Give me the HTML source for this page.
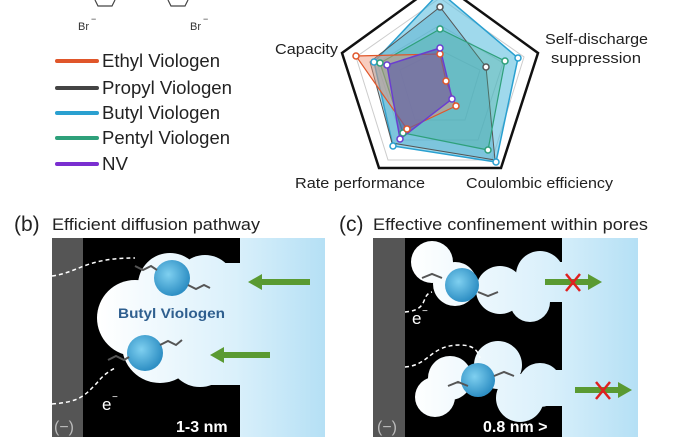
<!DOCTYPE html>
<html><head><style>
html,body{margin:0;padding:0;background:#fff;}
svg{display:block;}
text{font-family:"Liberation Sans",sans-serif;}
</style></head><body>
<svg width="686" height="440" viewBox="0 0 686 440" xmlns="http://www.w3.org/2000/svg">
<defs>
<linearGradient id="gb" gradientUnits="userSpaceOnUse" x1="100" x2="325" y1="0" y2="0">
<stop offset="0" stop-color="#ffffff"/><stop offset="0.6" stop-color="#daf0fb"/><stop offset="1" stop-color="#b5e0f5"/></linearGradient>
<linearGradient id="gc" gradientUnits="userSpaceOnUse" x1="410" x2="638" y1="0" y2="0">
<stop offset="0" stop-color="#ffffff"/><stop offset="0.6" stop-color="#daf0fb"/><stop offset="1" stop-color="#b5e0f5"/></linearGradient>
<radialGradient id="sph" cx="0.4" cy="0.4" r="0.6">
<stop offset="0" stop-color="#7fd0f0"/><stop offset="1" stop-color="#2e8fc4"/></radialGradient>
</defs>
<path d="M95 0 L98 6 L112 6 L115 0 M168 0 L171 6 L185 6 L188 0" fill="none" stroke="#444" stroke-width="1.2"/>
<text x="78" y="30" font-size="11" fill="#333">Br</text><text x="91" y="22" font-size="9" fill="#333">−</text>
<text x="190" y="30" font-size="11" fill="#333">Br</text><text x="203" y="22" font-size="9" fill="#333">−</text>
<g stroke-width="4" stroke-linecap="round">
<line x1="57" y1="61" x2="97" y2="61" stroke="#e0562a"/>
<line x1="57" y1="88" x2="97" y2="88" stroke="#444"/>
<line x1="57" y1="113" x2="97" y2="113" stroke="#2aa0d0"/>
<line x1="57" y1="138" x2="97" y2="138" stroke="#2ea07a"/>
<line x1="57" y1="164" x2="97" y2="164" stroke="#7a2ed0"/>
</g>
<g font-size="18" fill="#222">
<text x="102" y="67" textLength="118" lengthAdjust="spacingAndGlyphs">Ethyl Viologen</text>
<text x="102" y="94" textLength="130" lengthAdjust="spacingAndGlyphs">Propyl Viologen</text>
<text x="102" y="119" textLength="118" lengthAdjust="spacingAndGlyphs">Butyl Viologen</text>
<text x="102" y="144" textLength="128" lengthAdjust="spacingAndGlyphs">Pentyl Viologen</text>
<text x="102" y="170" textLength="26" lengthAdjust="spacingAndGlyphs">NV</text>
</g>
<g fill="none" stroke="#ccc" stroke-width="1">
<polygon points="440,-2 356,57 388,160 492,160 524,57"/>
<polygon points="440,25 377,63 402,140 478,140 503,63"/>
<polygon points="440,50 400,70 415,120 465,120 480,70"/>
</g>
<polygon points="440,-18 342,53 379,168 501,168 538,53" fill="none" stroke="#111" stroke-width="2.5"/>
<polygon points="440,-8 374,62 393,146 496,162 518,58" fill="#5fbfe0" fill-opacity="0.6" stroke="#2aa0d0" stroke-width="1.5"/>
<polygon points="440,7 370,62 392,143 495,160 486,67" fill="#4aa8c8" fill-opacity="0.4" stroke="#555" stroke-width="1"/>
<polygon points="440,29 380,63 403,133 488,150 505,61" fill="#3aa890" fill-opacity="0.3" stroke="#2ea07a" stroke-width="1.2"/>
<polygon points="440,54 356,56 407,129 456,106 446,81" fill="#f09070" fill-opacity="0.45" stroke="#e0562a" stroke-width="1.2"/>
<polygon points="440,48 387,65 400,139 452,99 448,81" fill="#5a5aa8" fill-opacity="0.6" stroke="#6a3ed0" stroke-width="1.5"/>
<g fill="#fff" stroke-width="1.5">
<circle cx="374" cy="62" r="3" stroke="#2aa0d0"/><circle cx="518" cy="58" r="3" stroke="#2aa0d0"/><circle cx="496" cy="162" r="3" stroke="#2aa0d0"/><circle cx="393" cy="146" r="3" stroke="#2aa0d0"/>
<circle cx="440" cy="7" r="3" stroke="#555"/><circle cx="486" cy="67" r="3" stroke="#555"/>
<circle cx="440" cy="29" r="3" stroke="#2ea07a"/><circle cx="380" cy="63" r="3" stroke="#2ea07a"/><circle cx="505" cy="61" r="3" stroke="#2ea07a"/><circle cx="488" cy="150" r="3" stroke="#2ea07a"/><circle cx="403" cy="133" r="3" stroke="#2ea07a"/>
<circle cx="440" cy="54" r="3" stroke="#e0562a"/><circle cx="356" cy="56" r="3" stroke="#e0562a"/><circle cx="446" cy="81" r="3" stroke="#e0562a"/><circle cx="456" cy="106" r="3" stroke="#e0562a"/><circle cx="407" cy="129" r="3" stroke="#e0562a"/>
<circle cx="440" cy="48" r="3" stroke="#6a3ed0"/><circle cx="387" cy="65" r="3" stroke="#6a3ed0"/><circle cx="452" cy="99" r="3" stroke="#6a3ed0"/><circle cx="400" cy="139" r="3" stroke="#6a3ed0"/>
</g>
<g font-size="15" fill="#222">
<text x="275" y="54" textLength="63" lengthAdjust="spacingAndGlyphs">Capacity</text>
<text x="545" y="44" textLength="103" lengthAdjust="spacingAndGlyphs">Self-discharge</text>
<text x="551" y="63" textLength="90" lengthAdjust="spacingAndGlyphs">suppression</text>
<text x="295" y="188" textLength="130" lengthAdjust="spacingAndGlyphs">Rate performance</text>
<text x="466" y="188" textLength="147" lengthAdjust="spacingAndGlyphs">Coulombic efficiency</text>
</g>
<text x="14" y="231" font-size="21" fill="#222">(b)</text>
<text x="52" y="230" font-size="17" fill="#222" textLength="208" lengthAdjust="spacingAndGlyphs">Efficient diffusion pathway</text>
<text x="339" y="231" font-size="21" fill="#222">(c)</text>
<text x="373" y="230" font-size="17" fill="#222" textLength="275" lengthAdjust="spacingAndGlyphs">Effective confinement within pores</text>
<!-- panel b -->
<rect x="52" y="238" width="273" height="199" fill="url(#gb)"/>
<rect x="52" y="238" width="31" height="199" fill="#555"/>
<rect x="83" y="238" width="157" height="199" fill="#000"/>
<g fill="url(#gb)">
<circle cx="170" cy="285" r="32"/><circle cx="205" cy="285" r="30"/>
<circle cx="135" cy="318" r="38"/><circle cx="160" cy="345" r="38"/>
<circle cx="200" cy="355" r="32"/><circle cx="175" cy="315" r="35"/>
<rect x="200" y="263" width="42" height="122"/>
</g>
<path d="M52 276 C80 272 85 258 135 258" fill="none" stroke="#fff" stroke-width="1.5" stroke-dasharray="4,3"/>
<path d="M52 404 C80 402 85 395 95 385 C100 380 102 375 115 368" fill="none" stroke="#fff" stroke-width="1.5" stroke-dasharray="4,3"/>
<circle cx="172" cy="278" r="18" fill="url(#sph)"/>
<circle cx="145" cy="353" r="18" fill="url(#sph)"/>
<path d="M135 266 l8 4 l8 -4 l6 4 M188 285 l8 4 l8 -4 l6 3 M108 360 l8 -4 l8 4 l5 -3 M160 345 l8 -4 l8 4 l6 -5" stroke="#555" stroke-width="2" fill="none"/>
<text x="118" y="318" font-size="14" font-weight="bold" fill="#2f5f8f" textLength="107" lengthAdjust="spacingAndGlyphs">Butyl Viologen</text>
<polygon points="248,282 262,274 262,279 310,279 310,285 262,285 262,290" fill="#5a9a32"/>
<polygon points="210,355 224,347 224,352 270,352 270,358 224,358 224,363" fill="#5a9a32"/>
<text x="102" y="410" font-size="17" fill="#fff">e</text><text x="112" y="400" font-size="10" fill="#fff">−</text>
<text x="54" y="432" font-size="16" fill="#bbb">(−)</text>
<text x="176" y="432" font-size="16" font-weight="bold" fill="#fff">1-3 nm</text>
<!-- panel c -->
<rect x="373" y="238" width="265" height="199" fill="url(#gc)"/>
<rect x="373" y="238" width="32" height="199" fill="#555"/>
<rect x="405" y="238" width="157" height="199" fill="#000"/>
<g fill="url(#gc)">
<circle cx="432" cy="262" r="21"/><circle cx="455" cy="284" r="22"/><circle cx="500" cy="290" r="24"/>
<circle cx="540" cy="275" r="24"/><circle cx="530" cy="302" r="20"/><rect x="540" y="262" width="22" height="40"/>
<circle cx="450" cy="378" r="22"/><circle cx="435" cy="397" r="20"/><circle cx="498" cy="365" r="24"/>
<circle cx="520" cy="398" r="24"/><circle cx="540" cy="385" r="22"/><rect x="540" y="370" width="22" height="36"/>
</g>
<path d="M405 312 C430 310 420 295 432 292" fill="none" stroke="#fff" stroke-width="1.5" stroke-dasharray="4,3"/>
<path d="M405 367 C430 365 430 345 460 345 C475 345 478 352 480 358" fill="none" stroke="#fff" stroke-width="1.5" stroke-dasharray="4,3"/>
<circle cx="462" cy="285" r="17" fill="url(#sph)"/>
<circle cx="478" cy="380" r="17" fill="url(#sph)"/>
<path d="M422 278 l10 -4 l10 4 M478 292 l10 4 l10 -4 M448 386 l10 -4 l10 4 M494 376 l10 -4 l10 4" stroke="#555" stroke-width="2" fill="none"/>
<polygon points="602,282 588,274 588,279 545,279 545,285 588,285 588,290" fill="#5a9a32"/>
<polygon points="632,390 618,382 618,387 575,387 575,393 618,393 618,398" fill="#5a9a32"/>
<path d="M566 274 L580 291 M580 274 L566 291 M596 382 L610 399 M610 382 L596 399" stroke="#e02020" stroke-width="2.5"/>
<text x="412" y="324" font-size="17" fill="#fff">e</text><text x="422" y="314" font-size="10" fill="#fff">−</text>
<text x="377" y="432" font-size="16" fill="#bbb">(−)</text>
<text x="483" y="432" font-size="16" font-weight="bold" fill="#fff">0.8 nm &gt;</text>
</svg>
</body></html>
